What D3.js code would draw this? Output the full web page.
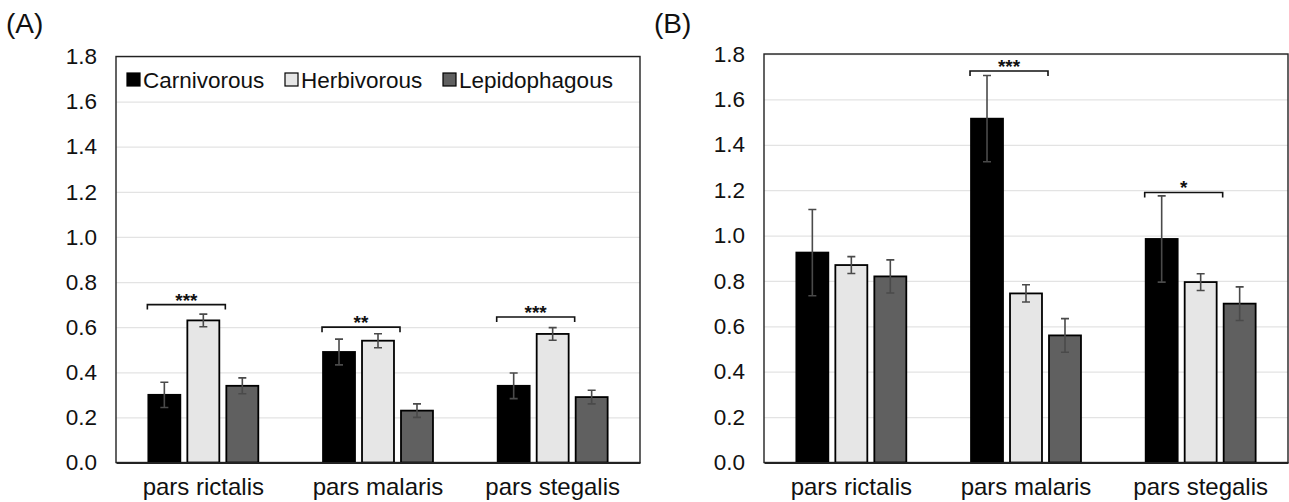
<!DOCTYPE html>
<html>
<head>
<meta charset="utf-8">
<script src="https://d3js.org/d3.v7.min.js"></script>
<style>
  body { margin: 0; background: #fff; }
  svg text { font-family: "Liberation Sans", Arial, sans-serif; fill: #111; }
</style>
</head>
<body>
<svg id="chart" width="1289" height="502"></svg>
<script>
// data
var categories = ["pars rictalis", "pars malaris", "pars stegalis"];
var seriesNames = ["Carnivorous", "Herbivorous", "Lepidophagous"];
var yTicks = [0, 0.2, 0.4, 0.6, 0.8, 1.0, 1.2, 1.4, 1.6, 1.8];

// panel A
var carnA = [0.30, 0.49, 0.34];
var herbA = [0.63, 0.54, 0.57];
var lepA = [0.34, 0.23, 0.29];
var carnErrA = [0.056, 0.057, 0.057];
var herbErrA = [0.028, 0.031, 0.028];
var lepErrA = [0.035, 0.030, 0.030];
var sigCatsA = ["pars rictalis", "pars malaris", "pars stegalis"];
var sigLevelA = [0.70, 0.60, 0.645];
var sigLabelA = ["***", "**", "***"];

// panel B
var carnB = [0.925, 1.515, 0.985];
var herbB = [0.87, 0.745, 0.795];
var lepB = [0.82, 0.56, 0.70];
var carnErrB = [0.19, 0.19, 0.19];
var herbErrB = [0.037, 0.038, 0.037];
var lepErrB = [0.073, 0.074, 0.074];
var sigCatsB = ["pars malaris", "pars stegalis"];
var sigLevelB = [1.725, 1.19];
var sigLabelB = ["***", "*"];

var fills = ["#000000", "#e6e6e6", "#606060"];

var svg = d3.select("#chart");

function drawPanel(opts){
    var g = svg.append("g").attr("transform", "translate(" + opts.left + ",0)");
    var width = opts.width;

    var y = d3.scaleLinear().domain([0, 1.8]).range([opts.bottom, opts.top]);
    var x0 = d3.scaleBand().domain(categories).range([0, width]);
    var x1 = d3.scaleBand().domain(seriesNames).range([0, x0.bandwidth()])
        .paddingInner(0.18).paddingOuter(0.83);

    // grid
    g.append("g")
        .call(d3.axisLeft(y).tickValues(yTicks.slice(1)).tickSize(-width).tickFormat(""))
        .call(function(s){ s.select(".domain").remove() })
        .selectAll("line").attr("stroke", "#e3e3e3").attr("stroke-width", 1.3);

    // tick labels
    g.append("g")
        .call(d3.axisLeft(y).tickValues(yTicks).tickSize(0).tickPadding(19).tickFormat(d3.format(".1f")))
        .call(function(s){ s.select(".domain").remove() })
        .selectAll("text").attr("font-size", 22.5).attr("fill", "#111");

    // frame
    g.append("rect")
        .attr("x", 0).attr("y", opts.top)
        .attr("width", width).attr("height", opts.bottom - opts.top)
        .attr("fill", "none").attr("stroke", "#222").attr("stroke-width", 1.4);

    var rows = [];
    categories.forEach(function(c, i){
        seriesNames.forEach(function(s, j){
            rows.push({ cat: c, series: s, value: opts.values[j][i], err: opts.errs[j][i], fill: fills[j] });
        });
    });

    var bars = g.append("g").selectAll("g")
        .data(rows).enter().append("g")
        .attr("transform", function(d){ return "translate(" + (x0(d.cat) + x1(d.series)) + ",0)" });

    bars.append("rect")
        .attr("x", 0)
        .attr("y", function(d){ return y(d.value) })
        .attr("width", x1.bandwidth())
        .attr("height", function(d){ return y(0) - y(d.value) })
        .attr("fill", function(d){ return d.fill })
        .attr("stroke", "#000").attr("stroke-width", 1.8);

    // error bars
    var bw = x1.bandwidth(), cap = 4;
    bars.append("path")
        .attr("d", function(d){
            var cx = bw / 2, t = y(d.value + d.err), b = y(d.value - d.err);
            return "M" + cx + "," + t + "V" + b
                + "M" + (cx - cap) + "," + t + "H" + (cx + cap)
                + "M" + (cx - cap) + "," + b + "H" + (cx + cap);
        })
        .attr("fill", "none").attr("stroke", "#4a4a4a").attr("stroke-width", 1.6);

    // x axis
    var xa = g.append("g")
        .attr("transform", "translate(0," + opts.bottom + ")")
        .call(d3.axisBottom(x0).tickSize(0).tickPadding(15));
    xa.select(".domain").attr("stroke", "#222").attr("stroke-width", 2);
    xa.selectAll("text").attr("font-size", 24).attr("fill", "#111");

    // significance brackets
    opts.sigCats.forEach(function(c, i){
        var xs = x0(c) + x1(seriesNames[0]) - 1;
        var xe = x0(c) + x1(seriesNames[2]) - 1;
        var yy = y(opts.sigLevel[i]);
        g.append("path")
            .attr("d", "M" + xs + "," + (yy + 5) + "V" + yy + "H" + xe + "V" + (yy + 5))
            .attr("fill", "none").attr("stroke", "#111").attr("stroke-width", 1.6);
        g.append("text")
            .attr("x", (xs + xe) / 2).attr("y", yy + 2)
            .attr("text-anchor", "middle")
            .attr("font-size", 19).attr("font-weight", "bold")
            .text(opts.sigLabel[i]);
    });

    // panel label
    svg.append("text")
        .attr("x", opts.labelX).attr("y", 33)
        .attr("font-size", 28)
        .text(opts.label);

    return { g: g, y: y };
}

var panelA = drawPanel({
    left: 116, width: 524, top: 56.5, bottom: 462.5,
    values: [carnA, herbA, lepA], errs: [carnErrA, herbErrA, lepErrA],
    sigCats: sigCatsA, sigLevel: sigLevelA, sigLabel: sigLabelA,
    label: "(A)", labelX: 6
});

drawPanel({
    left: 764, width: 524, top: 54, bottom: 462.5,
    values: [carnB, herbB, lepB], errs: [carnErrB, herbErrB, lepErrB],
    sigCats: sigCatsB, sigLevel: sigLevelB, sigLabel: sigLabelB,
    label: "(B)", labelX: 654
});

// legend (panel A only)
var legendX = [11, 169, 327];
var legend = panelA.g.append("g").attr("transform", "translate(0,80)");
var li = legend.selectAll("g").data(seriesNames).enter().append("g")
    .attr("transform", function(d, i){ return "translate(" + legendX[i] + ",0)" });
li.append("rect")
    .attr("x", 0).attr("y", -7).attr("width", 13).attr("height", 13)
    .attr("fill", function(d, i){ return fills[i] })
    .attr("stroke", "#000").attr("stroke-width", 1.2);
li.append("text")
    .attr("x", 16).attr("y", 8)
    .attr("font-size", 22.5)
    .text(function(d){ return d });
</script>
</body>
</html>
